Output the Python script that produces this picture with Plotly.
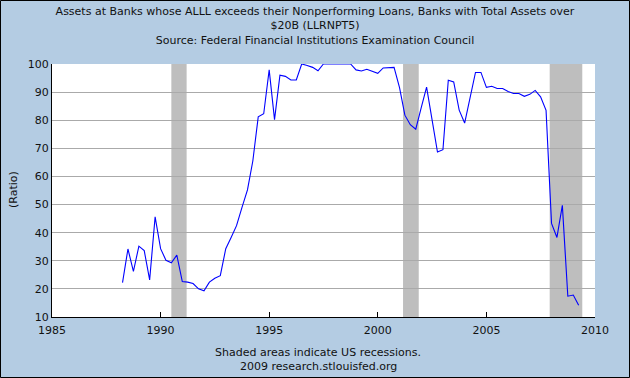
import pandas as pd
import plotly.graph_objects as go

# Quarterly observations, 1988Q2 .. 2009Q2 (percent of assets)
start_date = "1988-04-01"
values = [
    22.2, 34.2, 26.2,                      # 1988 Q2-Q4
    35.2, 33.6, 23.2, 45.6,                # 1989
    34.3, 30.2, 29.3, 32.0,                # 1990
    22.6, 22.4, 21.9, 20.0,                # 1991
    19.3, 22.4, 23.8, 24.7,                # 1992
    34.3, 38.3, 42.5, 49.0,                # 1993
    55.2, 65.5, 81.2, 82.3,                # 1994
    97.9, 80.2, 96.0, 95.6,                # 1995
    94.3, 94.3, 100.0, 99.5,               # 1996
    98.8, 97.6, 100.0, 100.0,              # 1997
    100.0, 100.0, 100.0, 100.0,            # 1998
    97.9, 97.5, 98.1, 97.4,                # 1999
    96.7, 98.6, 98.8, 98.8,                # 2000
    91.6, 81.8, 78.4, 76.8,                # 2001
    84.5, 91.8, 80.3, 68.7,                # 2002
    69.5, 94.2, 93.6, 83.6,                # 2003
    79.0, 88.0, 97.0, 97.0,                # 2004
    91.7, 92.1, 91.3, 91.3,                # 2005
    90.2, 89.5, 89.5, 88.5,                # 2006
    89.2, 90.6, 88.3, 83.5,                # 2007
    43.3, 38.3, 49.7, 17.4,                # 2008
    17.8, 14.2,                            # 2009 Q1-Q2
]
dates = pd.date_range(start=start_date, periods=len(values), freq="QS")

recession_starts = ["1990-07-01", "2001-03-01", "2007-12-01"]
recession_ends = ["1991-03-15", "2001-11-20", "2009-06-01"]

x_tick_years = [1985, 1990, 1995, 2000, 2005, 2010]
y_tick_vals = [10, 20, 30, 40, 50, 60, 70, 80, 90, 100]

title_lines = [
    "Assets at Banks whose ALLL exceeds their Nonperforming Loans, Banks with Total Assets over",
    "$20B (LLRNPT5)",
    "Source: Federal Financial Institutions Examination Council",
]
note_lines = ["Shaded areas indicate US recessions.", "2009 research.stlouisfed.org"]

BG = "#B4CCE3"
FONT = "DejaVu Sans"

fig = go.Figure()
fig.add_trace(go.Scatter(
    x=dates, y=values, mode="lines",
    line=dict(color="#0000FF", width=1.1),
    hoverinfo="x+y", showlegend=False,
))

shapes = []
for s, e in zip(recession_starts, recession_ends):
    shapes.append(dict(type="rect", xref="x", yref="paper", x0=s, x1=e, y0=0, y1=1,
                       fillcolor="#BEBEBE", line=dict(width=0), layer="below"))
# outer border of the whole picture
shapes.append(dict(type="rect", xref="paper", yref="paper",
                   x0=-51.5 / 543, x1=577.5 / 543, y0=-60.5 / 253, y1=316.5 / 253,
                   line=dict(color="#000000", width=1), fillcolor="rgba(0,0,0,0)", layer="above"))

annotations = [
    dict(text="(Ratio)", xref="paper", yref="paper", x=-39 / 543, y=127 / 253,
         textangle=-90, showarrow=False, font=dict(family=FONT, size=11, color="#111111"),
         xanchor="center", yanchor="middle"),
    dict(text=note_lines[0], xref="paper", yref="paper", x=266 / 543, y=-35 / 253,
         showarrow=False, font=dict(family=FONT, size=11, color="#111111"),
         xanchor="center", yanchor="middle"),
    dict(text=note_lines[1], xref="paper", yref="paper", x=266 / 543, y=-49 / 253,
         showarrow=False, font=dict(family=FONT, size=11, color="#111111"),
         xanchor="center", yanchor="middle"),
]

fig.update_layout(
    width=630, height=378,
    margin=dict(l=52, r=35, t=64, b=61),
    paper_bgcolor=BG, plot_bgcolor="#FFFFFF",
    font=dict(family=FONT, size=11, color="#111111"),
    title=dict(text="<br>".join(title_lines), x=0.5, xref="container", xanchor="center",
               y=1 - 15 / 378, yref="container", yanchor="top",
               font=dict(family=FONT, size=11, color="#111111")),
    shapes=shapes, annotations=annotations,
    hovermode="closest",
)
fig.update_xaxes(
    type="date",
    range=[f"{x_tick_years[0]}-01-01", f"{x_tick_years[-1]}-01-01"],
    tickvals=[f"{y}-01-01" for y in x_tick_years],
    ticktext=[str(y) for y in x_tick_years],
    ticks="inside", ticklen=5, tickcolor="#000000", tickwidth=1,
    ticklabelstandoff=3,
    showline=True, linecolor="#000000", linewidth=1,
    showgrid=False, zeroline=False,
    tickfont=dict(family=FONT, size=11, color="#111111"),
)
fig.update_yaxes(
    range=[10, 100], tickvals=y_tick_vals,
    ticks="", showline=True, linecolor="#000000", linewidth=1,
    showgrid=True, gridcolor="#AAAAAA", gridwidth=1, zeroline=False,
    tickfont=dict(family=FONT, size=11, color="#111111"),
)

fig.write_html(
    "out.html",
    config={"displayModeBar": False},
    post_script="document.body.style.margin='0';document.body.style.padding='0';"
                "document.body.style.overflow='hidden';",
)
